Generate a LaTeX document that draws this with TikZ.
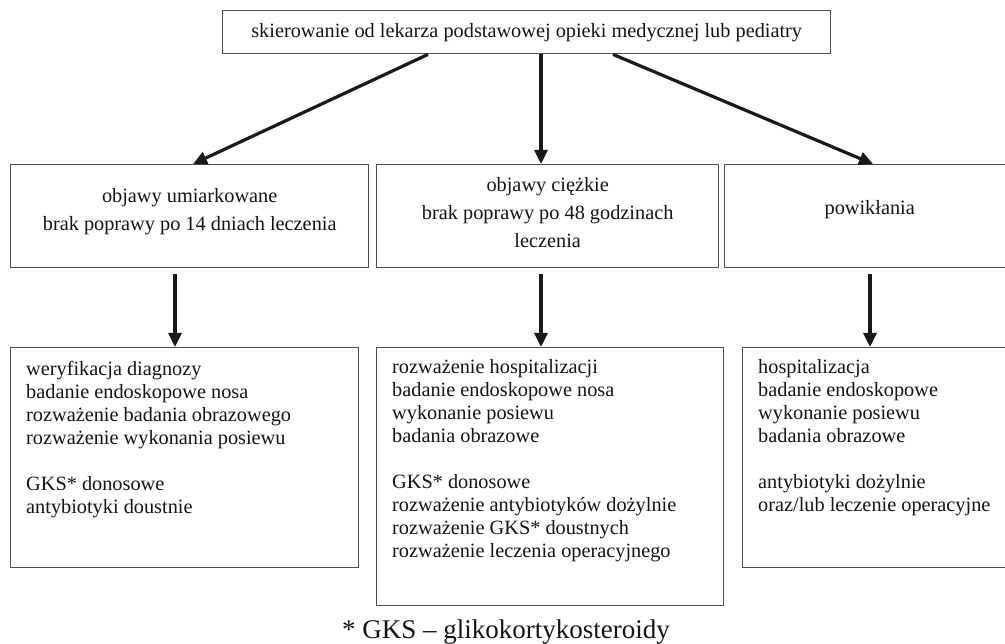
\documentclass[tikz,border=0pt]{standalone}
\usepackage{fontspec}
\setmainfont{Liberation Serif}
\usetikzlibrary{arrows.meta,calc}
\definecolor{inkc}{HTML}{141414}
\definecolor{framec}{HTML}{505050}
\tikzset{
  frame/.style={draw=framec, line width=1.4pt, inner sep=0pt, anchor=north west},
  caption/.style={text=inkc, font=\fontsize{20.3}{28}\selectfont, align=center, inner sep=0pt},
  listtext/.style={text=inkc, font=\fontsize{20.3}{23}\selectfont, align=left, inner sep=0pt, anchor=north west},
  flow/.style={draw=black!90, line width=3.2pt, -{Triangle[length=14pt,width=13pt]}},
}
\begin{document}
\begin{tikzpicture}[x=1pt,y=-1pt]
\useasboundingbox (0,0) rectangle (1005,644);
\clip (0,0) rectangle (1005,644);

% referral box
\node[frame, minimum width=608pt, minimum height=43pt] (top) at (222,10) {};
\node[caption] (toptxt) at (top.center) {skierowanie od lekarza podstawowej opieki medycznej lub pediatry};

% second row: patient condition
\node[frame, minimum width=358pt, minimum height=103pt] (mid1) at (10,164) {};
\node[frame, minimum width=342pt, minimum height=103pt] (mid2) at (376,164) {};
\node[frame, minimum width=290pt, minimum height=103pt] (mid3) at (724,164) {};
\node[caption, yshift=4.5pt] (mid1txt) at (mid1.center) {objawy umiarkowane\\brak poprawy po 14 dniach leczenia};
\node[caption, yshift=3.5pt] (mid2txt) at (mid2.center) {objawy ciężkie\\brak poprawy po 48 godzinach\\leczenia};
\node[caption, yshift=6.5pt] (mid3txt) at (mid3.center) {powikłania};

% third row: recommended management
\node[frame, minimum width=348pt, minimum height=220pt] (bot1) at (10,347) {};
\node[frame, minimum width=347pt, minimum height=258pt] (bot2) at (376,347) {};
\node[frame, minimum width=272pt, minimum height=220pt] (bot3) at (742,347) {};
\node[listtext] (bot1txt) at ($(bot1.north west)+(16,14)$) {weryfikacja diagnozy\\badanie endoskopowe nosa\\rozważenie badania obrazowego\\rozważenie wykonania posiewu\\[23pt]GKS* donosowe\\antybiotyki doustnie};
\node[listtext] (bot2txt) at ($(bot2.north west)+(16,12)$) {rozważenie hospitalizacji\\badanie endoskopowe nosa\\wykonanie posiewu\\badania obrazowe\\[23pt]GKS* donosowe\\rozważenie antybiotyków dożylnie\\rozważenie GKS* doustnych\\rozważenie leczenia operacyjnego};
\node[listtext] (bot3txt) at ($(bot3.north west)+(16,12)$) {hospitalizacja\\badanie endoskopowe\\wykonanie posiewu\\badania obrazowe\\[23pt]antybiotyki dożylnie\\oraz/lub leczenie operacyjne};

% footnote
\node[text=inkc, font=\fontsize{27}{30}\selectfont, inner sep=0pt] (note) at (506,632) {* GKS – glikokortykosteroidy};

% connectors
\draw[flow] ($(top.south west)+(206,0)$) -- ($(mid1.north west)+(183,0)$);
\draw[flow] ($(top.south west)+(319,0)$) -- ($(mid2.north west)+(165,0)$);
\draw[flow] ($(top.south west)+(391,0)$) -- ($(mid3.north west)+(149,0)$);
\draw[flow] ($(mid1.south west)+(165,6)$) -- ($(bot1.north west)+(165,0)$);
\draw[flow] ($(mid2.south west)+(165,6)$) -- ($(bot2.north west)+(165,0)$);
\draw[flow] ($(mid3.south west)+(146,6)$) -- ($(bot3.north west)+(128,0)$);
\end{tikzpicture}
\end{document}
